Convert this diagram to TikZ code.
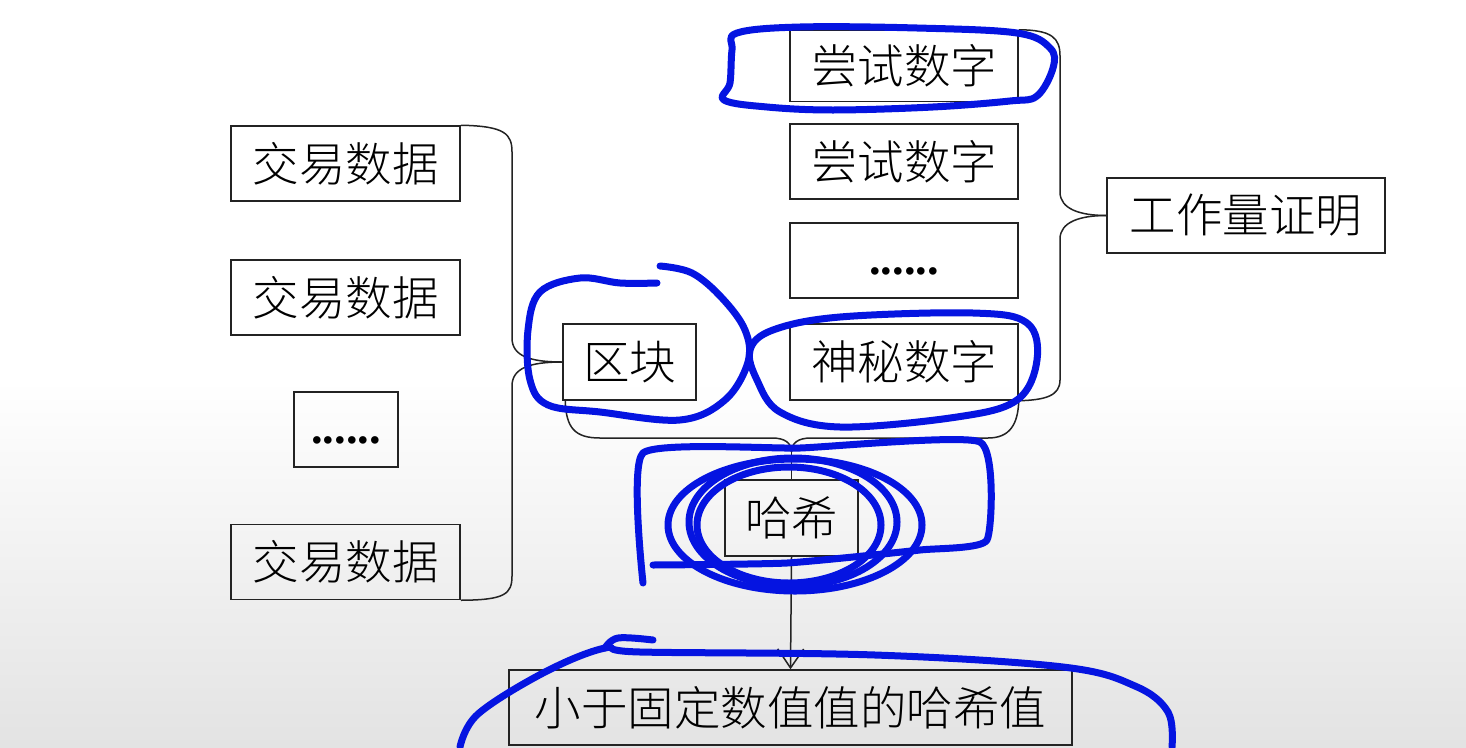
\documentclass[tikz,border=0pt]{standalone}
\usepackage{fontspec}
\IfFontExistsTF{Noto Sans CJK SC Light}{\setmainfont{Noto Sans CJK SC Light}}{\setmainfont{Noto Sans CJK SC}}
\newfontfamily\dotsfont{Liberation Serif}
\usetikzlibrary{arrows.meta,calc}
\definecolor{pen}{RGB}{5,20,225}
\definecolor{ink}{RGB}{35,35,35}
\newcommand{\lowdots}{\raisebox{-14pt}[0pt][0pt]{\dotsfont\bfseries ......}}
\begin{document}
\begin{tikzpicture}[x=1pt,y=-1pt,
  box/.style={draw=ink,line width=1.5pt,minimum height=75pt,inner sep=0pt,font=\fontsize{46.5}{50}\selectfont,text=black},
  link/.style={draw=ink,line width=1.5pt},
  blue pen/.style={draw=pen,line width=7pt,line cap=round,line join=round}]
\useasboundingbox (0,0) rectangle (1466,747);
\fill[white] (0,0) rectangle (1466,380);
\shade[top color=white,bottom color=gray!22] (0,380) rectangle (1466,747);
% left column
\node[box,minimum width=229pt] (t1) at (345.5,163.5) {交易数据};
\node[box,minimum width=229pt] (t2) at (345.5,297.5) {交易数据};
\node[box,minimum width=104pt] (tdots) at (346,429.5) {\lowdots};
\node[box,minimum width=229pt] (t4) at (345.5,562) {交易数据};
% block
\node[box,minimum width=133pt,minimum height=76pt] (blk) at (629.5,362) {区块};
% right column
\node[box,minimum width=228pt,minimum height=71pt] (n1) at (904,66) {尝试数字};
\node[box,minimum width=228pt] (n2) at (904,161.5) {尝试数字};
\node[box,minimum width=228pt] (ndots) at (904,260.5) {\lowdots};
\node[box,minimum width=228pt,minimum height=76pt] (n4) at (904,362) {神秘数字};
\node[box,minimum width=278pt] (pow) at (1246,215.5) {工作量证明};
% hash and result
\node[box,minimum width=133pt,minimum height=76pt] (hash) at (791.5,518) {哈希};
\node[box,minimum width=563pt] (res) at (790.5,707.5) {小于固定数值值的哈希值};
% left brace
\draw[link] (t1.north east) .. controls (505,126) and (512,134) .. (512,152) -- (512,338)
  .. controls (512,356) and (530,362) .. (blk.west);
\draw[link] (blk.west) .. controls (530,362) and (512,368) .. (512,386) -- (512,576)
  .. controls (512,594) and (505,600) .. (t4.south east);
% right brace
\draw[link] (n1.north east) .. controls (1052,30) and (1060,38) .. (1060,56) -- (1060,192)
  .. controls (1060,209) and (1080,215.5) .. (pow.west);
\draw[link] (pow.west) .. controls (1080,215.5) and (1060,222) .. (1060,239) -- (1060,380)
  .. controls (1060,396) and (1045,400) .. (n4.south east);
% bottom brace
\coordinate (tip) at (791.5,452);
\draw[link] ($(blk.south west)+(3,0)$) .. controls (566,428) and (575,438) .. (600,438) -- (772,438)
  .. controls (785,438) and (791.5,443) .. (tip);
\draw[link] (tip) .. controls (791.5,443) and (798,438) .. (811,438) -- (988,438)
  .. controls (1010,438) and (1018,424) .. (n4.south east);
\draw[link] (tip) -- (hash.north);
\draw[link,-{Straight Barb[length=19pt,width=26pt,line width=1.5pt]}] (hash.south) -- (res.north);
% blue annotations
\draw[blue pen] plot[smooth cycle,tension=0.6] coordinates {(737,33) (800,27) (917,28) (1017,33) (1050,48) (1053,68) (1037,96) (1010,101) (933,107) (833,110) (767,107) (724,100) (730,83) (732,50)};
\draw[blue pen] plot[smooth,tension=0.6] coordinates {(657,283) (620,283) (580,278) (540,292) (528,330) (530,380) (548,405) (600,412) (680,420) (725,400) (748,362) (745,330) (722,298) (692,273) (660,266)};
\draw[blue pen] plot[smooth cycle,tension=0.6] coordinates {(750,350) (773,330) (840,317) (973,313) (1027,323) (1037,360) (1017,400) (957,417) (840,427) (780,412) (757,380)};
\draw[blue pen] plot[smooth,tension=0.3] coordinates {(643,583) (643,453) (800,448) (980,442) (987,540) (920,550) (787,563) (653,565)};
\draw[blue pen] (795,525) ellipse [x radius=127,y radius=66];
\draw[blue pen] (793,522) ellipse [x radius=104,y radius=64];
\draw[blue pen] (789,525) ellipse [x radius=92,y radius=58];
\draw[blue pen] plot[smooth,tension=0.6] coordinates {(1172,747) (1168,712) (1135,686) (1063,667) (875,655) (640,652) (605,648) (545,672) (478,714) (460,747)};
\draw[blue pen] plot[smooth,tension=0.6] coordinates {(605,648) (618,638) (653,640)};
\end{tikzpicture}
\end{document}
